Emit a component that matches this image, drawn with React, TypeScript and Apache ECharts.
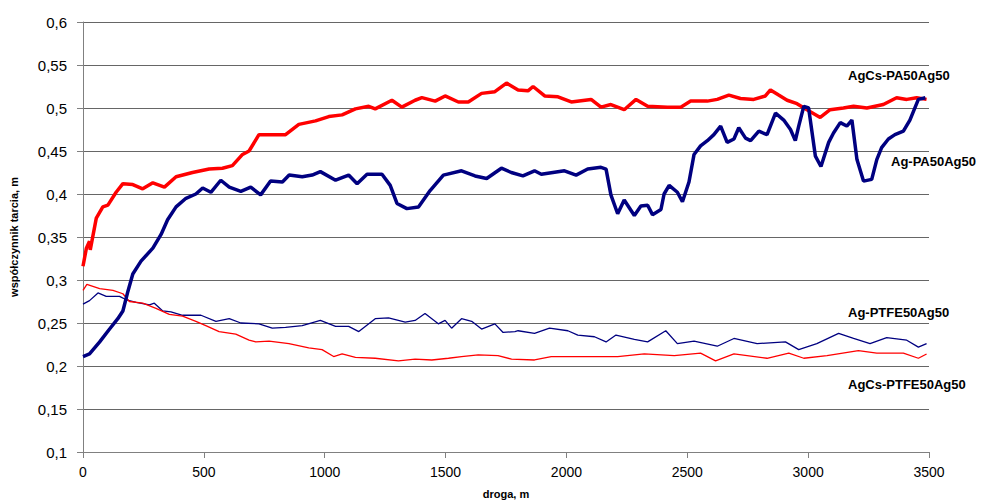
import React, { useEffect, useRef } from "react";
import * as echarts from "echarts";

// AgCs-PA50Ag50 (red, thick)
const agcsPaX = [0, 14, 27, 30, 55, 82, 103, 137, 165, 206, 247, 289, 337, 385, 453, 522, 577, 618, 660, 687, 728, 783, 838, 893, 962, 1017, 1072, 1127, 1182, 1209, 1278, 1319, 1374, 1402, 1457, 1498, 1553, 1594, 1649, 1704, 1752, 1800, 1841, 1862, 1910, 1965, 2020, 2102, 2143, 2184, 2239, 2288, 2336, 2418, 2473, 2514, 2583, 2624, 2672, 2720, 2775, 2823, 2844, 2878, 2913, 2954, 2995, 3050, 3091, 3146, 3188, 3243, 3311, 3366, 3408, 3449, 3490];
const agcsPaY = [0.316, 0.337, 0.345, 0.335, 0.372, 0.385, 0.387, 0.402, 0.412, 0.411, 0.406, 0.413, 0.408, 0.42, 0.425, 0.429, 0.43, 0.433, 0.446, 0.45, 0.469, 0.469, 0.469, 0.481, 0.485, 0.49, 0.492, 0.499, 0.502, 0.499, 0.509, 0.501, 0.509, 0.512, 0.508, 0.514, 0.507, 0.507, 0.517, 0.519, 0.529, 0.521, 0.52, 0.525, 0.514, 0.513, 0.507, 0.51, 0.501, 0.504, 0.498, 0.51, 0.502, 0.501, 0.501, 0.508, 0.508, 0.51, 0.515, 0.511, 0.51, 0.514, 0.521, 0.515, 0.509, 0.505, 0.498, 0.489, 0.498, 0.5, 0.502, 0.5, 0.504, 0.512, 0.51, 0.512, 0.51];

// Ag-PA50Ag50 (navy, thick)
const agPaX = [0, 27, 69, 110, 144, 165, 186, 206, 240, 289, 323, 350, 385, 426, 467, 495, 529, 570, 605, 653, 694, 735, 776, 825, 853, 907, 948, 982, 1045, 1099, 1134, 1175, 1237, 1271, 1299, 1340, 1388, 1436, 1491, 1566, 1622, 1670, 1731, 1772, 1820, 1868, 1896, 1992, 2040, 2088, 2143, 2164, 2184, 2212, 2239, 2281, 2308, 2336, 2356, 2391, 2404, 2425, 2459, 2480, 2507, 2528, 2555, 2583, 2610, 2638, 2665, 2693, 2713, 2741, 2762, 2796, 2830, 2865, 2899, 2927, 2947, 2961, 2982, 3002, 3030, 3053, 3085, 3105, 3133, 3160, 3181, 3202, 3229, 3263, 3284, 3304, 3332, 3359, 3394, 3421, 3456, 3485];
const agPaY = [0.211, 0.214, 0.228, 0.243, 0.255, 0.264, 0.287, 0.307, 0.322, 0.337, 0.353, 0.37, 0.385, 0.395, 0.4, 0.407, 0.402, 0.416, 0.408, 0.403, 0.408, 0.399, 0.415, 0.414, 0.422, 0.42, 0.422, 0.426, 0.416, 0.422, 0.412, 0.423, 0.423, 0.41, 0.389, 0.383, 0.385, 0.404, 0.422, 0.427, 0.421, 0.418, 0.43, 0.425, 0.421, 0.427, 0.423, 0.427, 0.422, 0.429, 0.431, 0.429, 0.399, 0.377, 0.393, 0.375, 0.386, 0.387, 0.376, 0.382, 0.4, 0.41, 0.402, 0.391, 0.414, 0.446, 0.456, 0.462, 0.469, 0.479, 0.46, 0.464, 0.477, 0.465, 0.462, 0.473, 0.469, 0.494, 0.486, 0.475, 0.462, 0.479, 0.502, 0.5, 0.444, 0.432, 0.46, 0.471, 0.483, 0.479, 0.486, 0.44, 0.415, 0.417, 0.44, 0.454, 0.464, 0.469, 0.473, 0.486, 0.51, 0.512];

// Ag-PTFE50Ag50 (navy, thin)
const agPtfeX = [0, 27, 62, 96, 151, 179, 220, 275, 295, 330, 364, 412, 453, 488, 550, 605, 653, 728, 783, 838, 907, 982, 1045, 1099, 1141, 1209, 1264, 1333, 1374, 1415, 1470, 1498, 1525, 1566, 1608, 1649, 1704, 1738, 1787, 1800, 1868, 1930, 2006, 2047, 2116, 2164, 2205, 2281, 2336, 2411, 2459, 2528, 2624, 2693, 2789, 2906, 2961, 3036, 3126, 3188, 3256, 3325, 3408, 3456, 3490];
const agPtfeY = [0.272, 0.276, 0.285, 0.281, 0.281, 0.277, 0.274, 0.271, 0.273, 0.264, 0.263, 0.259, 0.259, 0.259, 0.252, 0.255, 0.25, 0.249, 0.244, 0.245, 0.247, 0.253, 0.246, 0.246, 0.24, 0.255, 0.256, 0.251, 0.253, 0.261, 0.249, 0.253, 0.244, 0.255, 0.252, 0.243, 0.249, 0.239, 0.24, 0.241, 0.238, 0.244, 0.241, 0.236, 0.234, 0.228, 0.236, 0.231, 0.228, 0.241, 0.226, 0.229, 0.223, 0.232, 0.226, 0.228, 0.219, 0.226, 0.238, 0.232, 0.226, 0.233, 0.23, 0.222, 0.226];

// AgCs-PTFE50Ag50 (red, thin)
const agcsPtfeX = [0, 16, 69, 124, 165, 192, 247, 302, 357, 412, 467, 508, 563, 632, 687, 715, 770, 852, 934, 989, 1037, 1072, 1127, 1209, 1305, 1374, 1443, 1512, 1566, 1635, 1717, 1773, 1868, 1937, 2075, 2212, 2322, 2446, 2555, 2617, 2693, 2830, 2920, 2982, 3078, 3208, 3284, 3394, 3456, 3490];
const agcsPtfeY = [0.288, 0.295, 0.29, 0.288, 0.284, 0.275, 0.273, 0.267, 0.26, 0.258, 0.252, 0.247, 0.24, 0.237, 0.23, 0.228, 0.229, 0.226, 0.221, 0.219, 0.211, 0.214, 0.21, 0.209, 0.206, 0.208, 0.207, 0.209, 0.211, 0.213, 0.212, 0.208, 0.207, 0.211, 0.211, 0.211, 0.214, 0.212, 0.215, 0.206, 0.214, 0.209, 0.215, 0.209, 0.212, 0.218, 0.215, 0.215, 0.209, 0.214];

const yTicks = { min: 0.1, max: 0.6, interval: 0.05 };
const xTicks = { min: 0, max: 3500, interval: 500 };

const FONT = "'Liberation Sans', Arial, sans-serif";

function pairs(xs: number[], ys: number[]) {
  const n = Math.min(xs.length, ys.length);
  const out: number[][] = [];
  for (let i = 0; i < n; i++) out.push([xs[i], ys[i]]);
  return out;
}

export default function App() {
  const ref = useRef<HTMLDivElement>(null);
  useEffect(() => {
    if (!ref.current) return;
    const chart = echarts.init(ref.current, null, { renderer: "svg" });
    chart.setOption({
      animation: false,
      backgroundColor: "#fff",
      grid: { left: 80, right: 69, top: 22, bottom: 48 },
      xAxis: {
        type: "value",
        min: xTicks.min,
        max: xTicks.max,
        interval: xTicks.interval,
        name: "droga, m",
        nameLocation: "middle",
        nameGap: 36,
        nameTextStyle: { fontFamily: FONT, fontSize: 11, fontWeight: "bold", color: "#000" },
        axisLine: { onZero: false, lineStyle: { color: "#808080", width: 1 } },
        axisTick: { show: true, inside: false, length: 6, lineStyle: { color: "#808080" } },
        axisLabel: { fontFamily: FONT, fontSize: 14, color: "#000", margin: 13, formatter: (v: number) => String(v) },
        splitLine: { show: false },
      },
      yAxis: {
        type: "value",
        min: yTicks.min,
        max: yTicks.max,
        interval: yTicks.interval,
        name: "współczynnik tarcia, m",
        nameLocation: "middle",
        nameGap: 64,
        nameRotate: 90,
        nameTextStyle: { fontFamily: FONT, fontSize: 11, fontWeight: "bold", color: "#000" },
        axisLine: { show: true, lineStyle: { color: "#808080", width: 1 } },
        axisTick: { show: true, inside: false, length: 6, lineStyle: { color: "#808080" } },
        axisLabel: {
          fontFamily: FONT,
          fontSize: 15,
          color: "#000",
          margin: 16,
          formatter: (v: number) => String(Math.round(v * 100) / 100).replace(".", ","),
        },
        splitLine: { show: true, lineStyle: { color: "#666", width: 1 } },
      },
      series: [
        {
          name: "AgCs-PA50Ag50",
          type: "line",
          data: pairs(agcsPaX, agcsPaY),
          showSymbol: false,
          lineStyle: { color: "#ff0000", width: 3.5 },
          itemStyle: { color: "#ff0000" },
          z: 3,
        },
        {
          name: "Ag-PA50Ag50",
          type: "line",
          data: pairs(agPaX, agPaY),
          showSymbol: false,
          lineStyle: { color: "#000080", width: 3.5 },
          itemStyle: { color: "#000080" },
          z: 4,
        },
        {
          name: "Ag-PTFE50Ag50",
          type: "line",
          data: pairs(agPtfeX, agPtfeY),
          showSymbol: false,
          lineStyle: { color: "#000080", width: 1.3 },
          itemStyle: { color: "#000080" },
          z: 2,
        },
        {
          name: "AgCs-PTFE50Ag50",
          type: "line",
          data: pairs(agcsPtfeX, agcsPtfeY),
          showSymbol: false,
          lineStyle: { color: "#ff0000", width: 1.3 },
          itemStyle: { color: "#ff0000" },
          z: 2,
        },
      ],
      graphic: [
        { type: "text", left: 848, top: 69, style: { text: "AgCs-PA50Ag50", font: `bold 13px ${FONT}`, fill: "#000" } },
        { type: "text", left: 891, top: 155, style: { text: "Ag-PA50Ag50", font: `bold 13px ${FONT}`, fill: "#000" } },
        { type: "text", left: 848, top: 306, style: { text: "Ag-PTFE50Ag50", font: `bold 13px ${FONT}`, fill: "#000" } },
        { type: "text", left: 848, top: 378, style: { text: "AgCs-PTFE50Ag50", font: `bold 13px ${FONT}`, fill: "#000" } },
      ],
    });
    return () => chart.dispose();
  }, []);
  return (
    <div
      ref={ref}
      style={{ position: "fixed", left: 0, top: 0, width: 998, height: 504, background: "#fff" }}
    />
  );
}
